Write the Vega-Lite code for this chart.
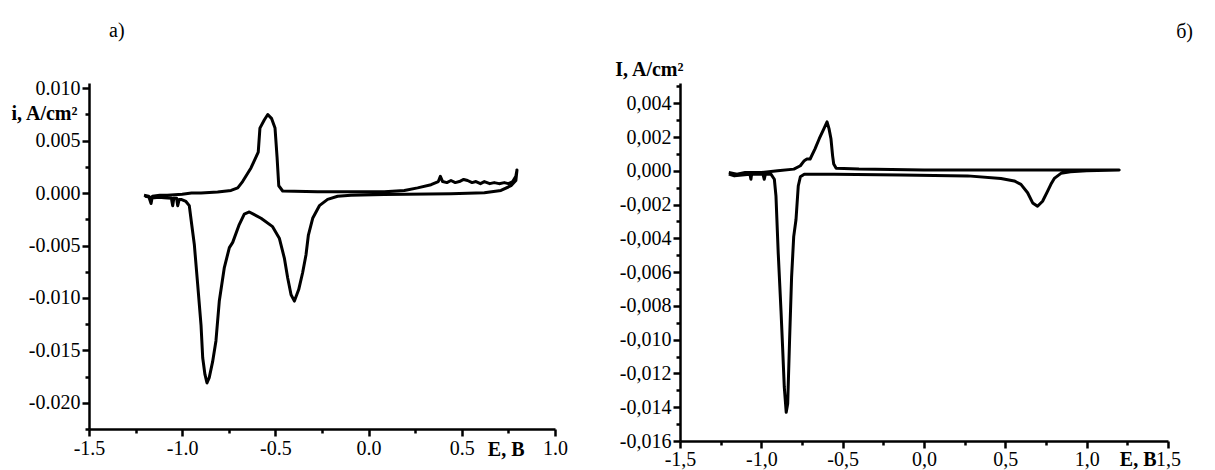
{
  "$schema": "https://vega.github.io/schema/vega-lite/v6.json",
  "padding": {"left": 9, "top": 21, "right": 5, "bottom": 2},
  "background": "white",
  "config": {
    "view": {"stroke": null},
    "axis": {
      "labelFont": "Liberation Serif", "titleFont": "Liberation Serif",
      "labelFontSize": 20, "titleFontSize": 20, "titleFontWeight": "bold",
      "labelColor": "black", "titleColor": "black", "domainColor": "black", "tickColor": "black",
      "domainWidth": 2.5, "tickWidth": 2.5, "grid": false, "labelFlush": false, "labelOverlap": false
    },
    "title": {"font": "Liberation Serif", "fontSize": 20, "fontWeight": "normal", "color": "black"}
  },
  "datasets": {
    "a": [
      {"k":1,"E":-1.205,"i":-0.0002},{"k":2,"E":-1.18,"i":-0.0003},{"k":3,"E":-1.167,"i":-0.0010},{"k":4,"E":-1.16,"i":-0.0003},
      {"k":5,"E":-1.12,"i":-0.0002},{"k":6,"E":-1.08,"i":-0.0002},{"k":7,"E":-1.0,"i":-0.0001},{"k":8,"E":-0.95,"i":0.0},
      {"k":9,"E":-0.899,"i":0.0},{"k":10,"E":-0.81,"i":0.0001},{"k":11,"E":-0.738,"i":0.00025},{"k":12,"E":-0.702,"i":0.0005},
      {"k":13,"E":-0.676,"i":0.0011},{"k":14,"E":-0.631,"i":0.0024},{"k":15,"E":-0.592,"i":0.0039},{"k":16,"E":-0.583,"i":0.0062},
      {"k":17,"E":-0.559,"i":0.0070},{"k":18,"E":-0.541,"i":0.0075},{"k":19,"E":-0.52,"i":0.0071},{"k":20,"E":-0.502,"i":0.0062},
      {"k":21,"E":-0.491,"i":0.0034},{"k":22,"E":-0.482,"i":0.0007},{"k":23,"E":-0.461,"i":0.0002},{"k":24,"E":-0.273,"i":0.00013},
      {"k":25,"E":0.084,"i":0.00013},{"k":26,"E":0.192,"i":0.00025},{"k":27,"E":0.263,"i":0.0005},{"k":28,"E":0.335,"i":0.0008},
      {"k":29,"E":0.374,"i":0.0011},{"k":30,"E":0.385,"i":0.0016},{"k":31,"E":0.397,"i":0.0011},{"k":32,"E":0.42,"i":0.0010},
      {"k":33,"E":0.442,"i":0.0012},{"k":34,"E":0.465,"i":0.0010},{"k":35,"E":0.487,"i":0.0011},{"k":36,"E":0.51,"i":0.0013},
      {"k":37,"E":0.531,"i":0.0012},{"k":38,"E":0.555,"i":0.0010},{"k":39,"E":0.576,"i":0.0011},{"k":40,"E":0.6,"i":0.0009},
      {"k":41,"E":0.621,"i":0.0011},{"k":42,"E":0.65,"i":0.0009},{"k":43,"E":0.674,"i":0.0010},{"k":44,"E":0.70,"i":0.0009},
      {"k":45,"E":0.728,"i":0.0010},{"k":46,"E":0.75,"i":0.0009},{"k":47,"E":0.773,"i":0.0011},{"k":48,"E":0.79,"i":0.0016},
      {"k":49,"E":0.796,"i":0.0022},{"k":50,"E":0.79,"i":0.0012},{"k":51,"E":0.764,"i":0.0007},{"k":52,"E":0.71,"i":0.00025},
      {"k":53,"E":0.621,"i":0.00003},{"k":54,"E":0.442,"i":-0.00006},{"k":55,"E":0.084,"i":-0.00013},{"k":56,"E":-0.095,"i":-0.0002},
      {"k":57,"E":-0.166,"i":-0.0003},{"k":58,"E":-0.22,"i":-0.0006},{"k":59,"E":-0.264,"i":-0.0012},{"k":60,"E":-0.30,"i":-0.0024},
      {"k":61,"E":-0.323,"i":-0.0040},{"k":62,"E":-0.336,"i":-0.0059},{"k":63,"E":-0.354,"i":-0.0076},{"k":64,"E":-0.375,"i":-0.0092},
      {"k":65,"E":-0.398,"i":-0.0103},{"k":66,"E":-0.416,"i":-0.0097},{"k":67,"E":-0.434,"i":-0.0081},{"k":68,"E":-0.452,"i":-0.0062},
      {"k":69,"E":-0.479,"i":-0.0043},{"k":70,"E":-0.515,"i":-0.0032},{"k":71,"E":-0.577,"i":-0.0024},{"k":72,"E":-0.64,"i":-0.0018},
      {"k":73,"E":-0.667,"i":-0.0020},{"k":74,"E":-0.694,"i":-0.0030},{"k":75,"E":-0.729,"i":-0.0047},{"k":76,"E":-0.747,"i":-0.0052},
      {"k":77,"E":-0.774,"i":-0.0071},{"k":78,"E":-0.801,"i":-0.0103},{"k":79,"E":-0.819,"i":-0.0141},{"k":80,"E":-0.837,"i":-0.0161},
      {"k":81,"E":-0.855,"i":-0.0176},{"k":82,"E":-0.867,"i":-0.0181},{"k":83,"E":-0.878,"i":-0.0173},{"k":84,"E":-0.89,"i":-0.0157},
      {"k":85,"E":-0.899,"i":-0.0126},{"k":86,"E":-0.917,"i":-0.0087},{"k":87,"E":-0.935,"i":-0.0049},{"k":88,"E":-0.949,"i":-0.0030},
      {"k":89,"E":-0.962,"i":-0.0012},{"k":90,"E":-0.98,"i":-0.0008},{"k":91,"E":-1.006,"i":-0.0006},{"k":92,"E":-1.016,"i":-0.0006},
      {"k":93,"E":-1.024,"i":-0.0012},{"k":94,"E":-1.03,"i":-0.0005},{"k":95,"E":-1.045,"i":-0.0005},{"k":96,"E":-1.051,"i":-0.0012},
      {"k":97,"E":-1.058,"i":-0.0005},{"k":98,"E":-1.096,"i":-0.00045},{"k":99,"E":-1.123,"i":-0.0004},{"k":100,"E":-1.15,"i":-0.00045},
      {"k":101,"E":-1.2,"i":-0.0003}
    ],
    "b": [
      {"k":1,"E":-1.2,"i":-0.0001},{"k":2,"E":-1.15,"i":-0.0002},{"k":3,"E":-1.1,"i":-0.0001},{"k":4,"E":-1.0,"i":-0.0001},
      {"k":5,"E":-0.9,"i":0.0},{"k":6,"E":-0.8,"i":0.0001},{"k":7,"E":-0.76,"i":0.0003},{"k":8,"E":-0.736,"i":0.0006},
      {"k":9,"E":-0.72,"i":0.0007},{"k":10,"E":-0.70,"i":0.0007},{"k":11,"E":-0.67,"i":0.0013},{"k":12,"E":-0.644,"i":0.0019},
      {"k":13,"E":-0.615,"i":0.0025},{"k":14,"E":-0.596,"i":0.0029},{"k":15,"E":-0.584,"i":0.0025},{"k":16,"E":-0.572,"i":0.0019},
      {"k":17,"E":-0.562,"i":0.0009},{"k":18,"E":-0.555,"i":0.0004},{"k":19,"E":-0.54,"i":0.00015},{"k":20,"E":-0.4,"i":0.0001},
      {"k":21,"E":0.0,"i":0.00005},{"k":22,"E":0.6,"i":0.00005},{"k":23,"E":1.2,"i":0.00005},{"k":24,"E":1.0,"i":0.0},
      {"k":25,"E":0.9,"i":-0.00005},{"k":26,"E":0.842,"i":-0.00015},{"k":27,"E":0.801,"i":-0.00045},{"k":28,"E":0.78,"i":-0.0008},
      {"k":29,"E":0.76,"i":-0.0012},{"k":30,"E":0.729,"i":-0.0018},{"k":31,"E":0.698,"i":-0.0021},{"k":32,"E":0.668,"i":-0.0019},
      {"k":33,"E":0.637,"i":-0.0013},{"k":34,"E":0.596,"i":-0.0008},{"k":35,"E":0.555,"i":-0.0006},{"k":36,"E":0.473,"i":-0.00045},
      {"k":37,"E":0.268,"i":-0.0003},{"k":38,"E":-0.142,"i":-0.00025},{"k":39,"E":-0.551,"i":-0.0002},{"k":40,"E":-0.736,"i":-0.0002},
      {"k":41,"E":-0.76,"i":-0.00035},{"k":42,"E":-0.773,"i":-0.0009},{"k":43,"E":-0.787,"i":-0.0029},{"k":44,"E":-0.801,"i":-0.0039},
      {"k":45,"E":-0.814,"i":-0.0063},{"k":46,"E":-0.826,"i":-0.0099},{"k":47,"E":-0.838,"i":-0.0138},{"k":48,"E":-0.847,"i":-0.0143},
      {"k":49,"E":-0.859,"i":-0.0128},{"k":50,"E":-0.869,"i":-0.0105},{"k":51,"E":-0.879,"i":-0.0083},{"k":52,"E":-0.896,"i":-0.0049},
      {"k":53,"E":-0.91,"i":-0.0015},{"k":54,"E":-0.92,"i":-0.0005},{"k":55,"E":-0.941,"i":-0.0002},{"k":56,"E":-0.975,"i":-0.0002},
      {"k":57,"E":-0.982,"i":-0.0005},{"k":58,"E":-0.99,"i":-0.0002},{"k":59,"E":-1.06,"i":-0.0002},{"k":60,"E":-1.064,"i":-0.0005},
      {"k":61,"E":-1.07,"i":-0.0002},{"k":62,"E":-1.166,"i":-0.0003},{"k":63,"E":-1.2,"i":-0.0002}
    ]
  },
  "hconcat": [
    {
      "width": 466, "height": 346,
      "title": {"text": "а)", "anchor": "start", "frame": "group", "dx": 20, "offset": 37},
      "data": {"name": "a"},
      "mark": {"type": "line", "color": "black", "strokeWidth": 3, "strokeJoin": "round", "clip": true},
      "encoding": {
        "x": {"field": "E", "type": "quantitative",
          "scale": {"domain": [-1.5, 1.0], "nice": false, "zero": false},
          "axis": {
            "values": [-1.5,-1.25,-1.0,-0.75,-0.5,-0.25,0,0.25,0.5,0.75,1.0],
            "tickSize": {"condition": {"test": "abs(datum.value*2 - round(datum.value*2)) < 1e-6", "value": 7}, "value": 4},
            "labelExpr": "abs(datum.value*2 - round(datum.value*2)) < 1e-6 ? (datum.value < -1e-9 ? '-' : '') + format(abs(datum.value), '.1f') : ''",
            "labelPadding": 2,
            "title": "E, B", "titleAlign": "right", "titleBaseline": "middle", "titleX": 435, "titleY": 20
          }
        },
        "y": {"field": "i", "type": "quantitative",
          "scale": {"domain": [-0.0225, 0.0105], "nice": false, "zero": false},
          "axis": {
            "values": [-0.0225,-0.02,-0.0175,-0.015,-0.0125,-0.01,-0.0075,-0.005,-0.0025,0,0.0025,0.005,0.0075,0.01],
            "tickSize": {"condition": {"test": "abs(datum.value*200 - round(datum.value*200)) < 1e-6", "value": 7}, "value": 4},
            "labelExpr": "abs(datum.value*200 - round(datum.value*200)) < 1e-6 ? (datum.value < -1e-9 ? '-' : '') + format(abs(datum.value), '.3f') : ''",
            "labelPadding": 2,
            "title": "i, A/cm²", "titleAngle": 0, "titleAlign": "right", "titleBaseline": "middle", "titleX": -12, "titleY": 30
          }
        },
        "order": {"field": "k", "type": "quantitative"}
      }
    },
    {
      "width": 488, "height": 358,
      "title": {"text": "б)", "anchor": "end", "frame": "group", "dx": 25, "offset": 17},
      "data": {"name": "b"},
      "mark": {"type": "line", "color": "black", "strokeWidth": 3, "strokeJoin": "round", "clip": true},
      "encoding": {
        "x": {"field": "E", "type": "quantitative",
          "scale": {"domain": [-1.5, 1.5], "nice": false, "zero": false},
          "axis": {
            "values": [-1.5,-1.25,-1.0,-0.75,-0.5,-0.25,0,0.25,0.5,0.75,1.0,1.25,1.5],
            "tickSize": {"condition": {"test": "abs(datum.value*2 - round(datum.value*2)) < 1e-6", "value": 7}, "value": 4},
            "labelExpr": "abs(datum.value*2 - round(datum.value*2)) < 1e-6 ? (datum.value < -1e-9 ? '-' : '') + replace(format(abs(datum.value), '.1f'), '.', ',') : ''",
            "labelPadding": 1,
            "title": "E, B", "titleAlign": "right", "titleBaseline": "middle", "titleX": 476, "titleY": 18
          }
        },
        "y": {"field": "i", "type": "quantitative",
          "scale": {"domain": [-0.016, 0.0052], "nice": false, "zero": false},
          "axis": {
            "values": [-0.016,-0.015,-0.014,-0.013,-0.012,-0.011,-0.01,-0.009,-0.008,-0.007,-0.006,-0.005,-0.004,-0.003,-0.002,-0.001,0,0.001,0.002,0.003,0.004,0.005],
            "tickSize": {"condition": {"test": "abs(datum.value*500 - round(datum.value*500)) < 1e-6", "value": 7}, "value": 4},
            "labelExpr": "abs(datum.value*500 - round(datum.value*500)) < 1e-6 ? (datum.value < -1e-9 ? '-' : '') + replace(format(abs(datum.value), '.3f'), '.', ',') : ''",
            "labelPadding": 2,
            "title": "I, A/cm²", "titleAngle": 0, "titleAlign": "right", "titleBaseline": "middle", "titleX": 3, "titleY": -14
          }
        },
        "order": {"field": "k", "type": "quantitative"}
      }
    }
  ],
  "spacing": 125,
  "bounds": "flush"
}
